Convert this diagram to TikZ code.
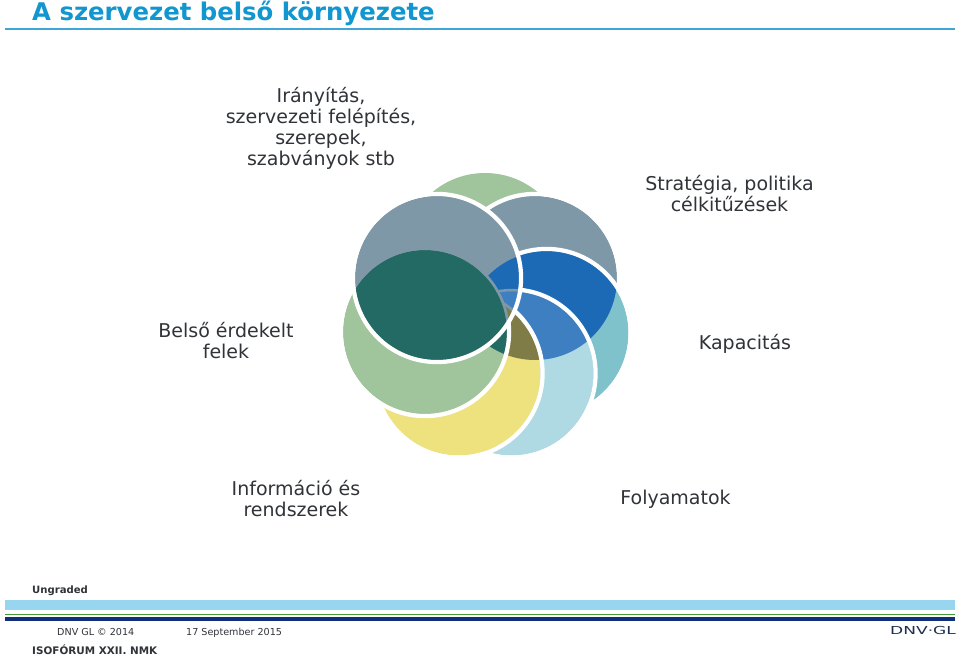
\documentclass[tikz,border=0pt]{standalone}
\usepackage{fontspec}
\usepackage{graphicx}
\setmainfont{DejaVu Sans}
\definecolor{ttl}{HTML}{1196CF}
\definecolor{rulec}{HTML}{3FA5D6}
\definecolor{txt}{HTML}{303338}
\definecolor{band}{HTML}{98D5EE}
\definecolor{lgreen}{HTML}{3F9C35}
\definecolor{navy}{HTML}{0F2F7A}
\definecolor{logoc}{HTML}{1F2F50}
\definecolor{cgreen}{HTML}{A0C49C}
\definecolor{cgrey}{HTML}{7F98A7}
\definecolor{cteal}{HTML}{7FC2CC}
\definecolor{cblue}{HTML}{1C69B5}
\definecolor{clight}{HTML}{B0DAE3}
\definecolor{cmid}{HTML}{3E7FC2}
\definecolor{cyel}{HTML}{EDE27E}
\definecolor{colive}{HTML}{807C47}
\definecolor{cdark}{HTML}{236A64}
\newcommand\layerc[3]{%
  \fill[#2] (#1) circle (82pt);
  \begin{scope}\clip (F) circle (82pt); \fill[#3] (#1) circle (82pt);\end{scope}
  \draw[ring] (#1) circle (84.1pt);}
\newcommand\inA[2]{\fill[#2] (#1) circle (82pt); \draw[cgrey,line width=2.6pt] (#1) circle (83.3pt);}
\tikzset{
  body/.style={text=txt,align=center,inner sep=0pt,font=\fontsize{19}{21}\selectfont},
  ring/.style={draw=white,line width=4.2pt},
  foot/.style={text=txt,inner sep=0pt,anchor=base west}
}
\begin{document}
\begin{tikzpicture}[x=1pt,y=-1pt]
\useasboundingbox[fill=white] (0,0) rectangle (960,655);
\coordinate (A) at (437,278);
\coordinate (B) at (425,332);
\coordinate (C) at (458.5,373.5);
\coordinate (D) at (511.5,373.5);
\coordinate (E) at (546.5,333);
\coordinate (F) at (535,278);
\coordinate (G) at (485,255);
\node[inner sep=0pt,anchor=base west,text=ttl,font=\fontsize{24.35}{26}\selectfont\bfseries] (title) at (32,21) {A szervezet belső környezete};
\fill[rulec] (5,27.7) rectangle (955,29.7);
% circles
\fill[cgreen] (G) circle (82pt);
\fill[cgrey] (F) circle (82pt); \draw[ring] (F) circle (84.1pt);
\layerc{E}{cteal}{cblue}
\layerc{D}{clight}{cmid}
\layerc{C}{cyel}{colive}
\layerc{B}{cgreen}{cdark}
\fill[cgrey] (A) circle (82pt);
\begin{scope}
\clip (A) circle (82pt);
\inA{E}{cblue}
\inA{D}{cmid}
\inA{C}{colive}
\inA{B}{cdark}
\end{scope}
\draw[ring] (A) circle (84.1pt);
% labels
\node[body] (l1) at (321,128.5) {Irányítás,\\szervezeti felépítés,\\szerepek,\\szabványok stb};
\node[body] (l2) at (729.5,194) {Stratégia, politika\\célkitűzések};
\node[body] (l3) at (226,341) {Belső érdekelt\\felek};
\node[body] (l4) at (745,343.5) {Kapacitás};
\node[body] (l5) at (296,498.5) {Információ és\\rendszerek};
\node[body] (l6) at (675.5,499.5) {Folyamatok};
% footer
\node[foot,font=\fontsize{10.1}{12}\selectfont\bfseries] (ung) at (32,593) {Ungraded};
\fill[band] (5,600) rectangle (955,610);
\fill[lgreen] (5,613.5) rectangle (955,615.2);
\fill[navy] (5,617) rectangle (955,620.5);
\node[foot,font=\fontsize{9.6}{12}\selectfont] (dnv) at (57,635) {DNV GL © 2014};
\node[foot,font=\fontsize{9.6}{12}\selectfont] (date) at (186,635) {17 September 2015};
\node[foot,font=\fontsize{10.4}{12}\selectfont\bfseries] (iso) at (32,654) {ISOFÓRUM XXII. NMK};
\node[foot,text=logoc,font=\fontsize{11}{12}\selectfont] (logo) at (890,634.5) {\scalebox{1.55}[1]{DNV·GL}};
\end{tikzpicture}
\end{document}
